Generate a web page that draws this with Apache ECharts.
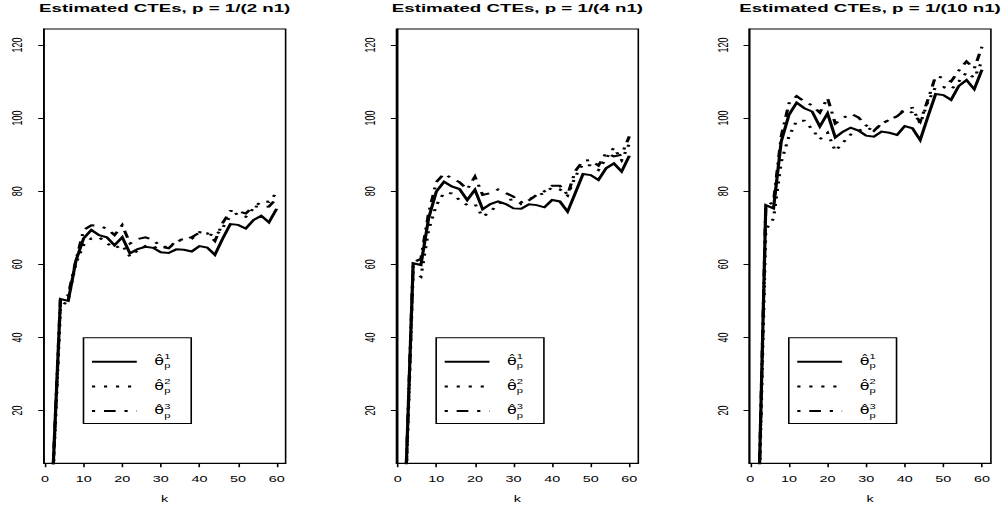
<!DOCTYPE html>
<html>
<head>
<meta charset="utf-8">
<script src="https://cdn.jsdelivr.net/npm/echarts@6/dist/echarts.min.js"></script>
<style>
  html, body { margin: 0; padding: 0; background: #fff; overflow: hidden; }
  #c { width: 628px; height: 508px; transform: scaleX(1.60032); transform-origin: 0 0; }
</style>
</head>
<body>
<div id="c"></div>
<script>
// ---- data ----
const k = [2, 4, 6, 8, 10, 12, 14, 16, 18, 20, 22, 24, 26, 28, 30, 32, 34, 36, 38, 40, 42, 44, 46, 48, 50, 52, 54, 56, 58, 60];

const titles = ['Estimated CTEs, p = 1/(2 n1)', 'Estimated CTEs, p = 1/(4 n1)', 'Estimated CTEs, p = 1/(10 n1)'];
const xTicks = [0, 10, 20, 30, 40, 50, 60];
const yTicks = [20, 40, 60, 80, 100, 120];

// panel 1: p = 1/(2 n1)
const p1_theta1 = [2, 50.5, 50.0, 61.0, 67.1, 69.4, 68.0, 67.4, 65.2, 67.4, 63.0, 64.2, 64.8, 64.5, 63.3, 63.1, 64.1, 64.0, 63.5, 65.0, 64.6, 62.6, 67.0, 71.0, 70.8, 69.8, 72.1, 73.3, 71.5, 75.2];
const p1_theta2 = [0, 48.0, 50.3, 60.3, 65.3, 67.1, 67.4, 65.8, 64.4, 65.3, 62.1, 63.8, 65.0, 64.4, 65.3, 64.4, 66.5, 66.9, 67.0, 68.8, 68.5, 67.6, 70.0, 73.2, 74.0, 73.0, 75.3, 77.3, 77.1, 79.6];
const p1_theta3 = [2, 50.7, 51.6, 61.0, 69.4, 70.7, 70.5, 69.8, 68.0, 70.7, 65.7, 66.9, 67.4, 66.7, 64.8, 64.4, 66.2, 66.9, 67.4, 68.7, 68.5, 66.4, 71.3, 74.6, 74.5, 73.9, 75.9, 75.6, 75.8, 78.0];

// panel 2: p = 1/(4 n1)
const p2_theta1 = [-2, 60.3, 59.8, 72.6, 79.9, 82.6, 81.3, 80.6, 77.6, 80.4, 75.1, 76.5, 77.2, 76.5, 75.3, 75.2, 76.4, 76.2, 75.6, 77.6, 77.2, 74.4, 79.5, 84.7, 84.4, 83.1, 86.3, 87.6, 85.4, 89.7];
const p2_theta2 = [-4, 58.0, 56.6, 69.4, 76.2, 79.6, 79.4, 77.6, 76.2, 76.5, 73.0, 74.4, 76.5, 77.5, 77.8, 77.0, 77.8, 78.8, 79.5, 81.0, 80.5, 78.8, 84.0, 87.5, 87.0, 85.8, 89.0, 91.9, 88.5, 93.0];
const p2_theta3 = [-2, 60.5, 61.5, 74.0, 82.5, 84.8, 83.5, 82.5, 80.5, 84.0, 79.0, 79.5, 80.5, 79.5, 78.5, 76.5, 77.5, 79.0, 80.0, 81.5, 81.5, 79.0, 85.5, 88.3, 88.5, 87.0, 90.5, 89.5, 90.0, 95.0];

// panel 3: p = 1/(10 n1)
const p3_theta1 = [-12, 76.2, 75.3, 93.6, 100.9, 104.2, 102.7, 101.8, 97.7, 101.3, 94.7, 96.3, 97.4, 96.6, 95.2, 94.9, 96.3, 96.0, 95.4, 97.8, 97.2, 94.0, 100.4, 106.6, 106.3, 105.0, 108.8, 110.4, 107.9, 113.2];
const p3_theta2 = [-14, 69.5, 72.5, 88.0, 95.0, 99.3, 99.3, 97.0, 94.2, 96.0, 91.0, 93.3, 95.5, 96.5, 97.5, 96.5, 98.5, 99.5, 100.5, 102.5, 102.8, 98.5, 104.5, 108.5, 108.5, 107.8, 110.0, 112.5, 111.0, 115.5];
const p3_theta3 = [-12, 76.0, 77.0, 95.0, 104.0, 106.0, 104.5, 103.5, 101.5, 105.5, 98.5, 100.0, 101.2, 100.2, 98.0, 96.5, 98.5, 99.5, 100.5, 102.2, 101.5, 99.0, 105.0, 111.5, 111.0, 110.0, 113.0, 115.5, 113.5, 119.5];

const panelSeries = [
  [p1_theta1, p1_theta2, p1_theta3],
  [p2_theta1, p2_theta2, p2_theta3],
  [p3_theta1, p3_theta2, p3_theta3]
];
const estimatorIndex = ['1', '2', '3'];

// ---- layout / style (unscaled coordinates; the page is stretched horizontally like the reference) ----
const boxLeft = [27.37, 247.76, 468.1];
const boxWidth = 151.1;
const boxTop = 28.9;
const boxHeight = 434.3;
const FONT = 'Liberation Sans, Arial, Helvetica, sans-serif';
const lineTypes = ['solid', [2, 5.5], [2, 5.5, 7.3, 5.5]];

const grids = [], xAxes = [], yAxes = [], series = [], legends = [], titleOpts = [];
const nameOf = (p, s) => 'θ̂p' + estimatorIndex[s] + ' — ' + titles[p];

for (let p = 0; p < 3; p++) {
  grids.push({
    left: boxLeft[p], top: boxTop, width: boxWidth, height: boxHeight,
    show: true, borderColor: '#000', borderWidth: 1,
    containLabel: false, outerBoundsMode: 'none'
  });
  xAxes.push({
    type: 'value', gridIndex: p, min: -0.32, max: 62.32,
    name: 'k', nameLocation: 'middle', nameGap: 31,
    nameTextStyle: { color: '#000', fontSize: 9, fontFamily: FONT },
    axisLine: { show: true, onZero: false, lineStyle: { color: '#000', width: 1 } },
    axisTick: { show: true, length: 4, lineStyle: { color: '#000', width: 1 }, customValues: xTicks },
    axisLabel: { color: '#000', fontSize: 9, fontFamily: FONT, margin: 11, customValues: xTicks },
    splitLine: { show: false }
  });
  yAxes.push({
    type: 'value', gridIndex: p, min: 5.6, max: 124.4,
    axisLine: { show: true, onZero: false, lineStyle: { color: '#000', width: 1 } },
    axisTick: { show: true, length: 3.5, lineStyle: { color: '#000', width: 1 }, customValues: yTicks },
    axisLabel: { color: '#000', fontSize: 9, fontFamily: FONT, rotate: 90, margin: 12, customValues: yTicks },
    splitLine: { show: false }
  });
  const names = [];
  for (let s = 0; s < 3; s++) {
    const vals = panelSeries[p][s];
    const nm = nameOf(p, s);
    names.push(nm);
    series.push({
      type: 'line', name: nm, xAxisIndex: p, yAxisIndex: p,
      data: k.map((kk, j) => [kk, vals[j]]),
      symbol: 'none', clip: true, silent: true,
      lineStyle: { color: '#000', width: 2, type: lineTypes[s], cap: 'butt', join: 'miter' },
      itemStyle: { color: '#000' },
      z: 3 - s
    });
  }
  legends.push({
    left: boxLeft[p] + 24.8, top: 337.7, orient: 'vertical',
    data: names, selectedMode: false,
    itemWidth: 28, itemHeight: 16, itemGap: 8.7,
    padding: [16, 13, 4.3, 4.3],
    borderColor: '#000', borderWidth: 1, borderRadius: 0,
    itemStyle: { color: 'rgba(0,0,0,0)', borderColor: 'rgba(0,0,0,0)', borderWidth: 0, opacity: 0 },
    lineStyle: { width: 2, color: '#000' },
    formatter: function (name) {
      const idx = name.charAt(3);
      return '{th|θ\u0302}{sup|' + idx + '}{sub|p}';
    },
    textStyle: {
      color: '#000',
      rich: {
        th: { fontSize: 10, lineHeight: 16, fontFamily: 'DejaVu Sans, sans-serif', padding: [0, 0, 0, 6], verticalAlign: 'middle' },
        sup: { fontSize: 7, lineHeight: 6, fontFamily: FONT, verticalAlign: 'top', width: 0.01 },
        sub: { fontSize: 7, lineHeight: 6, fontFamily: FONT, verticalAlign: 'bottom' }
      }
    }
  });
  titleOpts.push({
    text: titles[p], left: boxLeft[p] + boxWidth / 2, top: 2, padding: 0, textAlign: 'center',
    textStyle: { color: '#000', fontSize: 11.7, fontWeight: 'bold', fontFamily: FONT }
  });
}

const chart = echarts.init(document.getElementById('c'), null, { renderer: 'svg', width: 628, height: 508 });
chart.setOption({
  animation: false,
  backgroundColor: '#fff',
  title: titleOpts,
  grid: grids,
  xAxis: xAxes,
  yAxis: yAxes,
  legend: legends,
  series: series
});
</script>
</body>
</html>
